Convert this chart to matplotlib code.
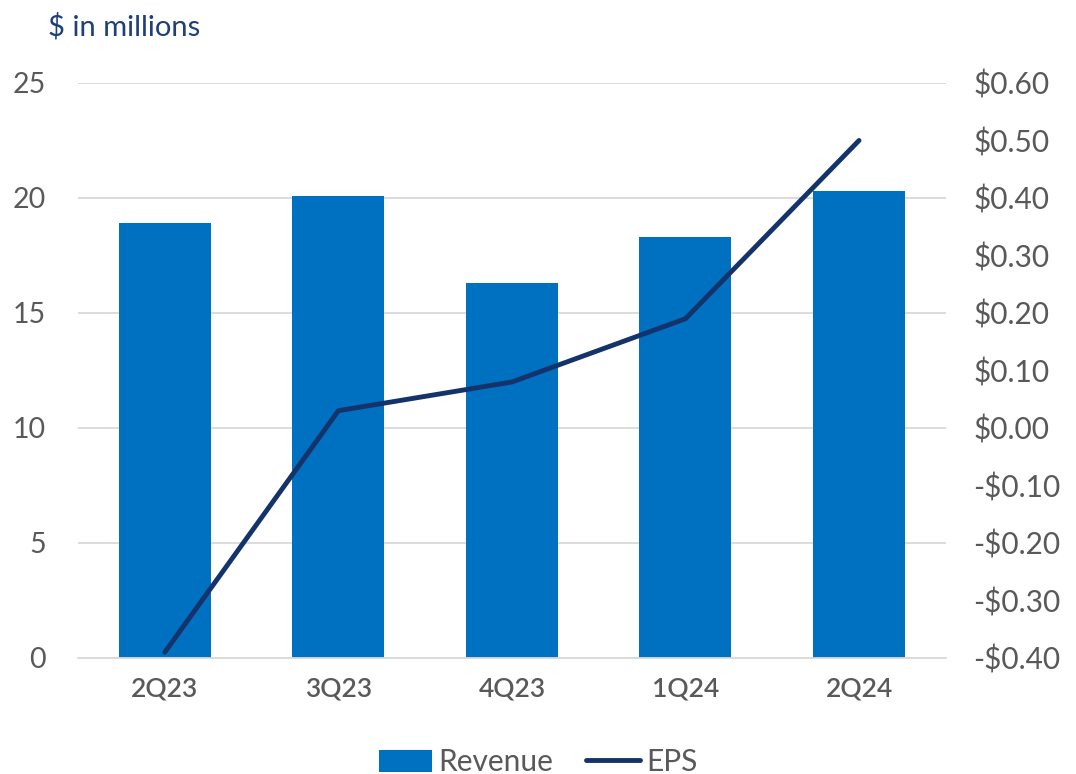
import matplotlib
matplotlib.use("Agg")
import matplotlib.pyplot as plt
from matplotlib.ticker import FuncFormatter

categories = ["2Q23", "3Q23", "4Q23", "1Q24", "2Q24"]
revenue = [18.9, 20.1, 16.3, 18.3, 20.3]
eps = [-0.39, 0.03, 0.08, 0.19, 0.50]

plt.rcParams['font.family'] = ['Lato', 'DejaVu Sans']

fig = plt.figure(figsize=(10.76, 7.74), dpi=100)
ax = fig.add_axes([0.0725, 0.1499, 0.879 - 0.0725, 0.8928 - 0.1499])
ax2 = ax.twinx()

x = list(range(len(categories)))
bars = ax.bar(x, revenue, width=0.53, color="#0070C0", label="Revenue", zorder=2)
ax.set_ylim(0, 25)
ax.set_yticks([0, 5, 10, 15, 20, 25])
ax.set_xlim(-0.5, len(categories) - 0.5)
ax.set_xticks(x)
ax.set_xticklabels(categories, fontsize=19, color="#595959", fontweight="semibold")
ax.grid(axis="y", color="#D9D9D9", linewidth=1.3, zorder=0)
ax.set_axisbelow(True)
for s in ["top", "right", "left"]:
    ax.spines[s].set_visible(False)
ax.spines["bottom"].set_color("#D9D9D9")
ax.spines["bottom"].set_linewidth(1.3)
ax.tick_params(axis="y", length=0, labelsize=20.5, labelcolor="#595959", pad=23)
ax.tick_params(axis="x", length=0, pad=13)

line, = ax2.plot(x, eps, color="#14336B", linewidth=3.5, label="EPS", zorder=3,
                 solid_capstyle="round")
ax2.set_ylim(-0.40, 0.60)
ax2.set_yticks([-0.4, -0.3, -0.2, -0.1, 0.0, 0.1, 0.2, 0.3, 0.4, 0.5, 0.6])

def fmt(v, pos):
    v = round(v, 2)
    if v < 0:
        return "-${:.2f}".format(-v)
    return "${:.2f}".format(v)

ax2.yaxis.set_major_formatter(FuncFormatter(fmt))
for s in ["top", "right", "left", "bottom"]:
    ax2.spines[s].set_visible(False)
ax2.tick_params(axis="y", length=0, labelsize=21.5, labelcolor="#595959", pad=20)

fig.text(0.045, 0.965, "$ in millions", fontsize=21, color="#1F3F7A", va="center", ha="left")

fig.legend([bars, line], ["Revenue", "EPS"], loc="center", bbox_to_anchor=(0.5, 0.0155),
           ncol=2, frameon=False, fontsize=21.5, labelcolor="#595959",
           handlelength=1.8, handleheight=0.75, handletextpad=0.2, columnspacing=1.1)

fig.savefig("out.png", dpi=100)
